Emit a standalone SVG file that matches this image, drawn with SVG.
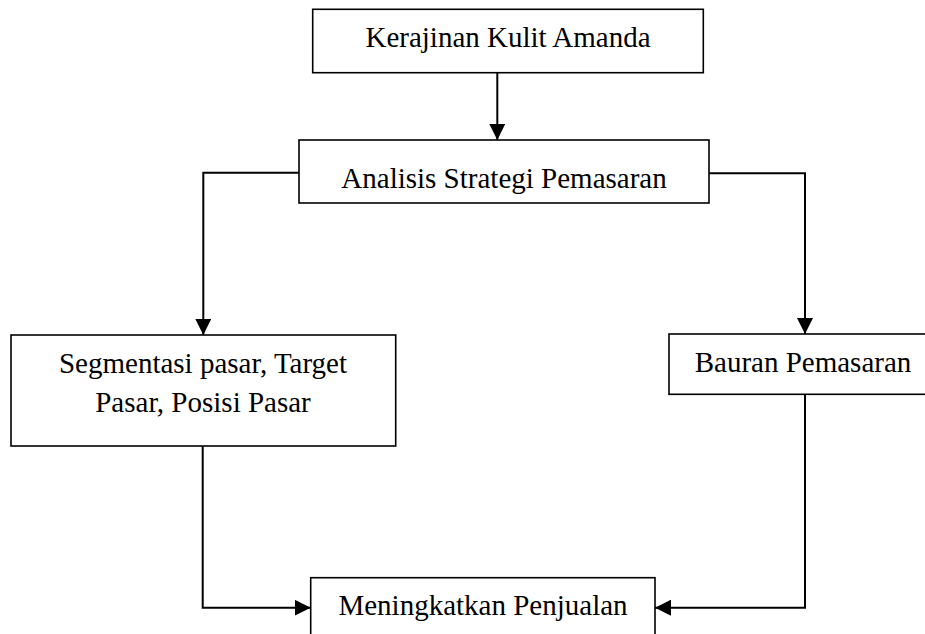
<svg xmlns="http://www.w3.org/2000/svg" width="925" height="634" viewBox="0 0 925 634">
<defs>
<style>
.box{fill:#fff;stroke:#000;stroke-width:1.6}
.t{font-family:"Liberation Serif","Times New Roman",serif;font-size:29px;fill:#000;text-anchor:middle}
.c{fill:none;stroke:#000;stroke-width:2}
</style>
<marker id="ah" markerUnits="userSpaceOnUse" markerWidth="16" markerHeight="16" refX="16" refY="8" orient="auto">
<path d="M0,0 L16,8 L0,16 z" fill="#000"/>
</marker>
</defs>
<rect width="925" height="634" fill="#fff"/>
<g id="connectors">
<path class="c" d="M497.3,72.7 V140" marker-end="url(#ah)"/>
<path class="c" d="M299,172.7 H203.3 V335" marker-end="url(#ah)"/>
<path class="c" d="M709,173.3 H805 V334" marker-end="url(#ah)"/>
<path class="c" d="M202.7,446 V607.7 H310.7" marker-end="url(#ah)"/>
<path class="c" d="M805,394.3 V607.7 H655" marker-end="url(#ah)"/>
</g>
<g id="kerajinan">
<rect class="box" x="312.7" y="9.3" width="390.6" height="63.4"/>
<text class="t" x="508" y="47">Kerajinan Kulit Amanda</text>
</g>
<g id="analisis">
<rect class="box" x="299" y="140" width="410" height="63"/>
<text class="t" x="504" y="188">Analisis Strategi Pemasaran</text>
</g>
<g id="segmentasi">
<rect class="box" x="11" y="335" width="384.7" height="111"/>
<text class="t" x="203" y="373">Segmentasi pasar, Target</text>
<text class="t" x="203" y="411.7">Pasar, Posisi Pasar</text>
</g>
<g id="bauran">
<rect class="box" x="669" y="334" width="280" height="60.3"/>
<text class="t" x="803" y="371.7">Bauran Pemasaran</text>
</g>
<g id="meningkatkan">
<rect class="box" x="310.7" y="577.7" width="344.3" height="80"/>
<text class="t" x="483" y="615">Meningkatkan Penjualan</text>
</g>
</svg>
